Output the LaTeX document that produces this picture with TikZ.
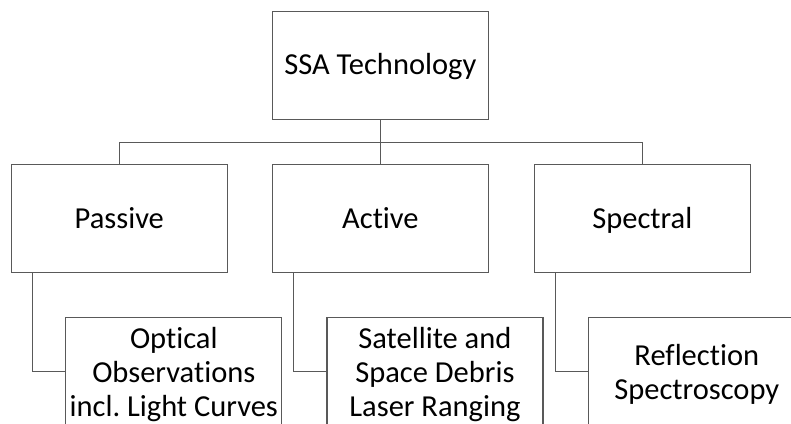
\documentclass[tikz,border=0pt]{standalone}
\usepackage{fontspec}
\setmainfont[Ligatures=NoCommon]{Carlito}
\usepackage{tikz}
\usepackage{xcolor}
\definecolor{boxline}{HTML}{595959}
\frenchspacing

\begin{document}
\begin{tikzpicture}[x=1pt,y=-1pt,
  box/.style={draw=boxline,line width=1.3pt,minimum width=216pt,minimum height=108pt,
    inner sep=0pt,text depth=0pt,align=center,font=\fontsize{30.5}{34}\selectfont},
  oneline/.style={box,text height=19.5pt},
  link/.style={draw=boxline,line width=1.3pt}]
  % Picture frame, bottom row is cut off
  \clip (0,0) rectangle (791,423);
  % Root
  \node[oneline] (tech) at (380.4,65.2) {SSA Technology};
  % Second row
  \node[oneline] (passive) at (119.3,218.5) {Passive};
  \node[oneline] (active) at (380.4,218.5) {Active};
  \node[oneline] (spectral) at (642.3,218.5) {Spectral};
  % Third row
  \node[box] (optical) at (173.8,371.7) {Optical\\Observations\\incl. Light Curves};
  \node[box] (laser) at (434.9,371.7) {Satellite and\\Space Debris\\Laser Ranging};
  \node[box] (reflect) at (696.8,371.7) {Reflection\\Spectroscopy};
  % Tree lines
  \coordinate (bus) at (380.4,142.7);
  \draw[link] (tech.south) -- (active.north);
  \draw[link] (passive.north) |- (bus);
  \draw[link] (spectral.north) |- (bus);
  % Elbows down to the third row
  \draw[link] ([xshift=21.7pt]passive.south west) |- (optical.west);
  \draw[link] ([xshift=21.7pt]active.south west) |- (laser.west);
  \draw[link] ([xshift=21.7pt]spectral.south west) |- (reflect.west);
\end{tikzpicture}
\end{document}
